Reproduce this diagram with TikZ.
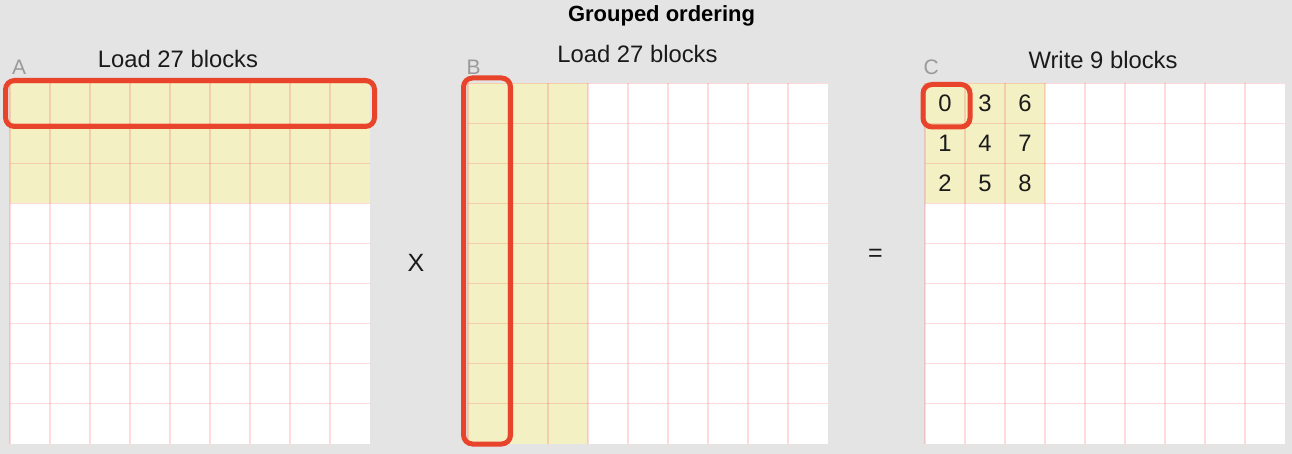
\documentclass[tikz,border=0pt]{standalone}
\usepackage{fontspec}
\setmainfont{Liberation Sans}
\definecolor{bgc}{HTML}{E4E4E4}
\definecolor{hlc}{HTML}{F3F0C4}
\definecolor{redc}{HTML}{E8442B}
\definecolor{lettergray}{HTML}{9A9A9A}
\definecolor{txt}{HTML}{1A1A1A}
\tikzset{
  gridline/.style={draw=red, draw opacity=0.14, line width=1.4pt},
  redbox/.style={draw=redc, line width=5pt, rounded corners=9pt},
  heading/.style={font=\fontsize{23.8}{28}\selectfont, text=txt, anchor=base, inner sep=0pt},
  letterlbl/.style={font=\fontsize{21}{25}\selectfont, text=lettergray, anchor=base west, inner sep=0pt},
  num/.style={font=\fontsize{23.8}{28}\selectfont, text=txt, inner sep=0pt},
  opsym/.style={font=\fontsize{25}{30}\selectfont, text=txt, inner sep=0pt}
}
\newcommand\mygrid[2]{%
  \foreach \k in {0,...,8} {
    \draw[gridline] (#1+40*\k,#2) -- ++(0,360);
    \draw[gridline] (#1,#2+40*\k) -- ++(360,0);
  }%
}
\begin{document}
\begin{tikzpicture}[x=1pt,y=-1pt]
\fill[bgc] (0,0) rectangle (1292,454);
\useasboundingbox (0,0) rectangle (1292,454);

% title
\node[font=\bfseries\fontsize{22}{26}\selectfont, text=black, anchor=base, inner sep=0pt] (title) at (661.5,22) {Grouped ordering};

% grid A
\fill[white] (10,83.5) rectangle ++(360,360);
\fill[hlc] (10,83.5) rectangle ++(360,120);
\mygrid{10}{83.5}
% grid B
\fill[white] (468,83.5) rectangle ++(360,360);
\fill[hlc] (468,83.5) rectangle ++(120,360);
\mygrid{468}{83.5}
% grid C
\fill[white] (925,83.5) rectangle ++(360,360);
\fill[hlc] (925,83.5) rectangle ++(120,120);
\mygrid{925}{83.5}

% labels
\node[heading] (loadA) at (178,68) {Load 27 blocks};
\node[heading] (loadB) at (637.5,63) {Load 27 blocks};
\node[heading] (writeC) at (1103,69) {Write 9 blocks};
\node[letterlbl] (lA) at (12,74.5) {A};
\node[letterlbl] (lB) at (466.5,74.5) {B};
\node[letterlbl] (lC) at (923.5,74.5) {C};

% numbers in C
\foreach \c in {0,1,2} {
  \foreach \r in {0,1,2} {
    \pgfmathtruncatemacro\n{3*\c+\r}
    \node[num] (n\n) at (945+40*\c,103.5+40*\r) {\n};
  }
}

% operators
\node[opsym] (times) at (416,262.5) {X};
\node[opsym] (equals) at (875.5,255.5) {=};

% red highlight boxes
\draw[redbox] (5.5,80.5) rectangle (374.5,126.5);
\draw[redbox] (463.5,78) rectangle (510.5,444);
\draw[redbox] (923,84.5) rectangle (970,127);
\end{tikzpicture}
\end{document}
